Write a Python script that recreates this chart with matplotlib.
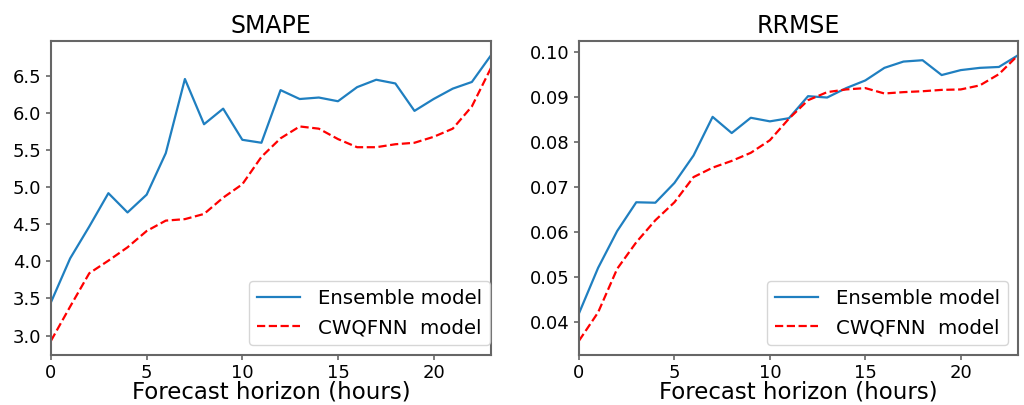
import matplotlib
matplotlib.use("Agg")
import matplotlib.pyplot as plt
import numpy as np

hours = list(range(24))
smape_ensemble = [3.45, 4.04, 4.47, 4.92, 4.66, 4.90, 5.46, 6.46, 5.85, 6.06, 5.64, 5.60,
                  6.31, 6.19, 6.21, 6.16, 6.35, 6.45, 6.40, 6.03, 6.19, 6.33, 6.42, 6.78]
smape_cwqfnn = [2.93, 3.39, 3.84, 4.01, 4.19, 4.41, 4.55, 4.57, 4.64, 4.86, 5.04, 5.41,
                5.66, 5.82, 5.79, 5.65, 5.54, 5.54, 5.58, 5.60, 5.68, 5.79, 6.09, 6.61]
rrmse_ensemble = [0.0419, 0.0520, 0.0602, 0.0666, 0.0665, 0.0709, 0.0770, 0.0856, 0.0820,
                  0.0854, 0.0846, 0.0853, 0.0902, 0.0899, 0.0920, 0.0937, 0.0965, 0.0979,
                  0.0982, 0.0949, 0.0960, 0.0965, 0.0967, 0.0993]
rrmse_cwqfnn = [0.0358, 0.0421, 0.0518, 0.0577, 0.0626, 0.0666, 0.0722, 0.0743, 0.0758,
                0.0776, 0.0804, 0.0852, 0.0893, 0.0911, 0.0917, 0.0920, 0.0908, 0.0911,
                0.0913, 0.0916, 0.0917, 0.0926, 0.0951, 0.0993]

titles = ["SMAPE", "RRMSE"]
labels = ["Ensemble model", "CWQFNN  model"]
xlabel = "Forecast horizon (hours)"
xticks = [0, 5, 10, 15, 20]
smape_yticks = [3.0, 3.5, 4.0, 4.5, 5.0, 5.5, 6.0, 6.5]
smape_yticklabels = ["3.0", "3.5", "4.0", "4.5", "5.0", "5.5", "6.0", "6.5"]
rrmse_yticks = [0.04, 0.05, 0.06, 0.07, 0.08, 0.09, 0.10]
rrmse_yticklabels = ["0.04", "0.05", "0.06", "0.07", "0.08", "0.09", "0.10"]

fig = plt.figure(figsize=(10.24, 4.05), dpi=100)
ax1 = fig.add_axes([51/1024, 1-355/405, 440/1024, 314/405])
ax2 = fig.add_axes([579/1024, 1-355/405, 439/1024, 314/405])

panels = [(ax1, titles[0], smape_ensemble, smape_cwqfnn, smape_yticks, smape_yticklabels, (0.998, 0.032)),
          (ax2, titles[1], rrmse_ensemble, rrmse_cwqfnn, rrmse_yticks, rrmse_yticklabels, (0.977, 0.032))]

for ax, title, ens, cw, yt, ytl, anchor in panels:
    ax.plot(hours, ens, color="#1f7fc0", lw=1.6, label=labels[0])
    ax.plot(hours, cw, color="red", lw=1.6, ls="--", label=labels[1])
    ax.set_xlim(0, 23)
    ax.set_xticks(xticks)
    ax.set_yticks(yt)
    ax.set_yticklabels(ytl)
    ax.set_title(title, fontsize=17)
    ax.set_xlabel(xlabel, fontsize=16.5, labelpad=-1)
    ax.tick_params(labelsize=13, color="#666666", width=1.2)
    ax.tick_params(axis="x", pad=3)
    for s in ax.spines.values():
        s.set_color("#666666")
        s.set_linewidth(1.5)
    ax.legend(loc="lower right", bbox_to_anchor=anchor, borderaxespad=0,
              fontsize=14.2, handlelength=2.2, handletextpad=0.9)

fig.savefig("out.png", dpi=100)
